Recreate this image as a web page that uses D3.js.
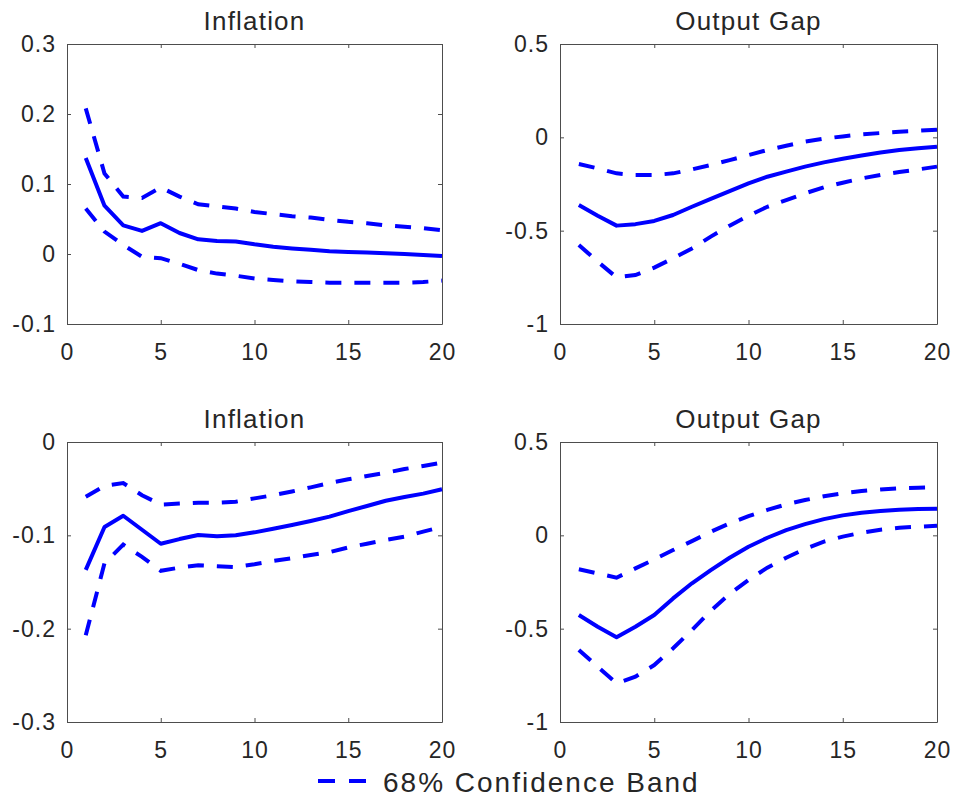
<!DOCTYPE html>
<html>
<head>
<meta charset="utf-8">
<script src="https://cdn.jsdelivr.net/npm/d3@7"></script>
<style>
  body { margin: 0; background: #fff; }
  svg text { font-family: "Liberation Sans", Arial, Helvetica, sans-serif; fill: #262626; }
</style>
</head>
<body>
<svg id="chart" width="956" height="800"></svg>
<script>
// horizon 1..20
var horizon = d3.range(1, 21);

// top-left: inflation
var inflTopMid = [0.137, 0.069, 0.041, 0.033, 0.044, 0.030, 0.021, 0.0186, 0.018, 0.0138, 0.0105, 0.008, 0.006, 0.004, 0.003, 0.002, 0.001, 0.0, -0.0014, -0.003];
var inflTopUp  = [0.208, 0.115, 0.082, 0.080, 0.095, 0.082, 0.071, 0.068, 0.065, 0.060, 0.057, 0.054, 0.052, 0.0486, 0.046, 0.044, 0.041, 0.039, 0.037, 0.034];
var inflTopLo  = [0.065, 0.032, 0.013, -0.004, -0.006, -0.014, -0.023, -0.028, -0.031, -0.035, -0.037, -0.039, -0.040, -0.041, -0.041, -0.041, -0.041, -0.041, -0.040, -0.038];

// top-right: output gap
var gapTopMid = [-0.363, -0.42, -0.473, -0.465, -0.448, -0.416, -0.372, -0.33, -0.288, -0.247, -0.211, -0.184, -0.157, -0.134, -0.115, -0.097, -0.081, -0.068, -0.059, -0.050];
var gapTopUp  = [-0.143, -0.166, -0.193, -0.202, -0.202, -0.193, -0.172, -0.148, -0.122, -0.095, -0.068, -0.045, -0.023, -0.007, 0.005, 0.016, 0.023, 0.030, 0.035, 0.041];
var gapTopLo  = [-0.577, -0.666, -0.75, -0.738, -0.698, -0.648, -0.595, -0.532, -0.473, -0.42, -0.372, -0.336, -0.30, -0.268, -0.243, -0.22, -0.202, -0.186, -0.172, -0.157];

// bottom-left: inflation
var inflBotMid = [-0.137, -0.091, -0.079, -0.094, -0.109, -0.104, -0.0996, -0.101, -0.100, -0.0968, -0.093, -0.089, -0.0846, -0.080, -0.074, -0.0686, -0.063, -0.059, -0.0553, -0.0507];
var inflBotUp  = [-0.0586, -0.047, -0.044, -0.057, -0.067, -0.066, -0.065, -0.065, -0.064, -0.0604, -0.057, -0.053, -0.0486, -0.044, -0.040, -0.0364, -0.033, -0.029, -0.0257, -0.022];
var inflBotLo  = [-0.207, -0.130, -0.110, -0.123, -0.138, -0.1346, -0.132, -0.133, -0.134, -0.131, -0.1275, -0.1246, -0.121, -0.118, -0.113, -0.109, -0.105, -0.1015, -0.096, -0.091];

// bottom-right: output gap
var gapBotMid = [-0.427, -0.49, -0.546, -0.49, -0.427, -0.338, -0.257, -0.186, -0.12, -0.061, -0.013, 0.028, 0.060, 0.087, 0.107, 0.121, 0.130, 0.137, 0.141, 0.143];
var gapBotUp  = [-0.182, -0.204, -0.227, -0.177, -0.129, -0.079, -0.031, 0.019, 0.064, 0.103, 0.136, 0.166, 0.189, 0.209, 0.225, 0.237, 0.246, 0.252, 0.255, 0.257];
var gapBotLo  = [-0.614, -0.704, -0.793, -0.757, -0.695, -0.605, -0.507, -0.404, -0.314, -0.239, -0.173, -0.12, -0.073, -0.034, -0.007, 0.014, 0.030, 0.041, 0.046, 0.051];

var xTicks = [0, 5, 10, 15, 20];
var titles = ["Inflation", "Output Gap", "Inflation", "Output Gap"];
var yDomains = [[-0.1, 0.3], [-1, 0.5], [-0.3, 0], [-1, 0.5]];
var yTicks = [[-0.1, 0, 0.1, 0.2, 0.3], [-1, -0.5, 0, 0.5], [-0.3, -0.2, -0.1, 0], [-1, -0.5, 0, 0.5]];
var legendLabel = "68% Confidence Band";

var panels = [
  {mid: inflTopMid, up: inflTopUp, lo: inflTopLo, x0: 67, x1: 442, y0: 44, y1: 324},
  {mid: gapTopMid, up: gapTopUp, lo: gapTopLo, x0: 560, x1: 937, y0: 44, y1: 324},
  {mid: inflBotMid, up: inflBotUp, lo: inflBotLo, x0: 67, x1: 442, y0: 442, y1: 722},
  {mid: gapBotMid, up: gapBotUp, lo: gapBotLo, x0: 560, x1: 937, y0: 442, y1: 722}
];

var blue = "#0000ff";
var axisCol = "#4d4d4d";
var dash = "16,13";

var svg = d3.select("#chart");

function fmt(v) {
  if (v === 0) return "0";
  return String(+v.toFixed(2));
}

panels.forEach(function (p, i) {
  var x = d3.scaleLinear().domain([0, 20]).range([p.x0, p.x1]);
  var y = d3.scaleLinear().domain(yDomains[i]).range([p.y1, p.y0]);
  var g = svg.append("g");

  // ticks inward on all four sides
  var bottom = d3.axisBottom(x).tickValues(xTicks).tickSizeInner(-4).tickSizeOuter(0).tickPadding(14).tickFormat(fmt);
  var top = d3.axisTop(x).tickValues(xTicks).tickSizeInner(-4).tickSizeOuter(0).tickFormat("");
  var left = d3.axisLeft(y).tickValues(yTicks[i]).tickSizeInner(-4).tickSizeOuter(0).tickPadding(11).tickFormat(fmt);
  var right = d3.axisRight(y).tickValues(yTicks[i]).tickSizeInner(-4).tickSizeOuter(0).tickFormat("");

  var gb = g.append("g").attr("transform", "translate(0," + p.y1 + ")").call(bottom);
  var gt = g.append("g").attr("transform", "translate(0," + p.y0 + ")").call(top);
  var gl = g.append("g").attr("transform", "translate(" + p.x0 + ",0)").call(left);
  var gr = g.append("g").attr("transform", "translate(" + p.x1 + ",0)").call(right);
  [gb, gt, gl, gr].forEach(function (a) {
    a.select(".domain").attr("stroke", axisCol);
    a.selectAll(".tick line").attr("stroke", axisCol);
    a.selectAll("text").attr("font-size", 23).attr("fill", "#262626")
      .attr("letter-spacing", 1)
      .attr("font-family", '"Liberation Sans", Arial, sans-serif');
  });
  gb.selectAll("text").attr("dy", "0.95em");

  var line = d3.line().x(function (d, j) { return x(horizon[j]); }).y(function (d) { return y(d); });

  g.append("path").datum(p.up).attr("d", line).attr("fill", "none")
    .attr("stroke", blue).attr("stroke-width", 4).attr("stroke-dasharray", dash);
  g.append("path").datum(p.lo).attr("d", line).attr("fill", "none")
    .attr("stroke", blue).attr("stroke-width", 4).attr("stroke-dasharray", dash);
  g.append("path").datum(p.mid).attr("d", line).attr("fill", "none")
    .attr("stroke", blue).attr("stroke-width", 4).attr("stroke-linejoin", "round");

  g.append("text").attr("x", (p.x0 + p.x1) / 2).attr("y", p.y0 - 14)
    .attr("text-anchor", "middle").attr("font-size", 26).attr("letter-spacing", 1.2)
    .attr("fill", "#000")
    .text(titles[i]);
});

// legend
var lg = svg.append("g");
lg.append("line").attr("x1", 318).attr("x2", 366).attr("y1", 781).attr("y2", 781)
  .attr("stroke", blue).attr("stroke-width", 4).attr("stroke-dasharray", "17,14");
lg.append("text").attr("x", 383).attr("y", 792).attr("font-size", 28).attr("letter-spacing", 2)
  .attr("fill", "#000")
  .text(legendLabel);
</script>
</body>
</html>
